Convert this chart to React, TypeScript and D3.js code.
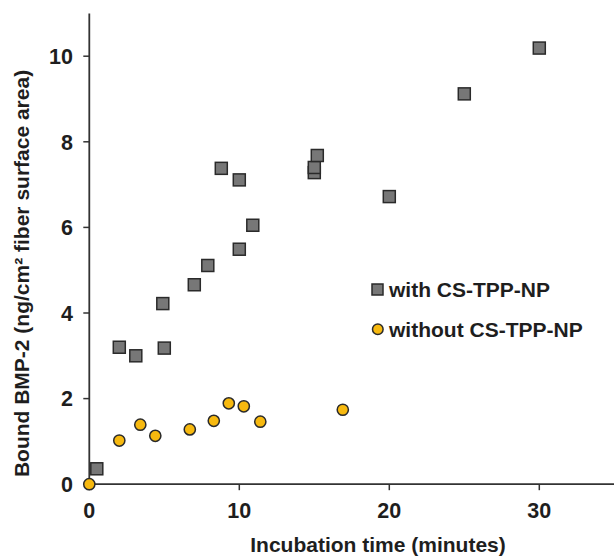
import React from "react";
import * as d3 from "d3";

const withX = [0.5, 2, 3.1, 5, 4.9, 7, 7.9, 10, 10.9, 8.8, 10, 15, 15, 15.2, 20, 25, 30];
const withY = [0.36, 3.2, 3.0, 3.18, 4.22, 4.66, 5.11, 5.49, 6.05, 7.38, 7.11, 7.28, 7.4, 7.68, 6.72, 9.12, 10.19];
const withoutX = [0, 2, 3.4, 4.4, 6.7, 8.3, 9.3, 10.3, 11.4, 16.9];
const withoutY = [0, 1.02, 1.39, 1.13, 1.28, 1.48, 1.89, 1.82, 1.46, 1.74];
const xTicks = [0, 10, 20, 30];
const yTicks = [0, 2, 4, 6, 8, 10];
const legendLabels = ["with CS-TPP-NP", "without CS-TPP-NP"];

const W = 614;
const H = 557;
const FONT = "'Liberation Sans', Arial, sans-serif";

export default function App() {
  const x = d3.scaleLinear().domain([0, 35]).range([89.3, 614.3]);
  const y = d3.scaleLinear().domain([0, 11]).range([484.2, 13.4]);
  const sq = 12;
  const axisColor = "#333";
  const text = "#1e1e1e";
  return (
    <svg width={W} height={H} style={{ position: "absolute", left: 0, top: 0, background: "#fff" }}>
      {/* axes */}
      <line x1={x(0)} x2={x(35)} y1={y(0)} y2={y(0)} stroke={axisColor} strokeWidth={1.8} />
      <line x1={x(0)} x2={x(0)} y1={y(0)} y2={y(11)} stroke={axisColor} strokeWidth={1.8} />
      {xTicks.map((t) => (
        <g key={"xt" + t}>
          <line x1={x(t)} x2={x(t)} y1={y(0)} y2={y(0) + 6} stroke={axisColor} strokeWidth={1.5} />
          <text x={x(t)} y={518} textAnchor="middle" fontFamily={FONT} fontWeight="bold" fontSize={21.5} fill={text}>{t}</text>
        </g>
      ))}
      {yTicks.map((t) => (
        <g key={"yt" + t}>
          <line x1={x(0) - 6} x2={x(0)} y1={y(t)} y2={y(t)} stroke={axisColor} strokeWidth={1.5} />
          <text x={73} y={y(t)} dy="0.36em" textAnchor="end" fontFamily={FONT} fontWeight="bold" fontSize={21.5} fill={text}>{t}</text>
        </g>
      ))}
      <text x={378} y={551.5} textAnchor="middle" fontFamily={FONT} fontWeight="bold" fontSize={21} fill={text}>Incubation time (minutes)</text>
      <text transform={`translate(29,273.5) rotate(-90)`} textAnchor="middle" fontFamily={FONT} fontWeight="bold" fontSize={21} fill={text}>Bound BMP-2 (ng/cm² fiber surface area)</text>
      {/* squares */}
      {withX.map((v, i) => (
        <rect key={"s" + i} x={x(v) - sq / 2} y={y(withY[i]) - sq / 2} width={sq} height={sq} fill="#777777" stroke="#2a2a2a" strokeWidth={1.5} />
      ))}
      {withoutX.map((v, i) => (
        <circle key={"c" + i} cx={x(v)} cy={y(withoutY[i])} r={5.6} fill="#f7b90f" stroke="#2a2a2a" strokeWidth={1.5} />
      ))}
      {/* legend */}
      <rect x={372} y={284} width={11} height={11} fill="#777777" stroke="#2a2a2a" strokeWidth={1.5} />
      <text x={389} y={289.5} dy="0.36em" fontFamily={FONT} fontWeight="bold" fontSize={21} fill={text}>{legendLabels[0]}</text>
      <circle cx={377.8} cy={329.3} r={5.3} fill="#f7b90f" stroke="#2a2a2a" strokeWidth={1.5} />
      <text x={389} y={329.3} dy="0.36em" fontFamily={FONT} fontWeight="bold" fontSize={21} fill={text}>{legendLabels[1]}</text>
    </svg>
  );
}
